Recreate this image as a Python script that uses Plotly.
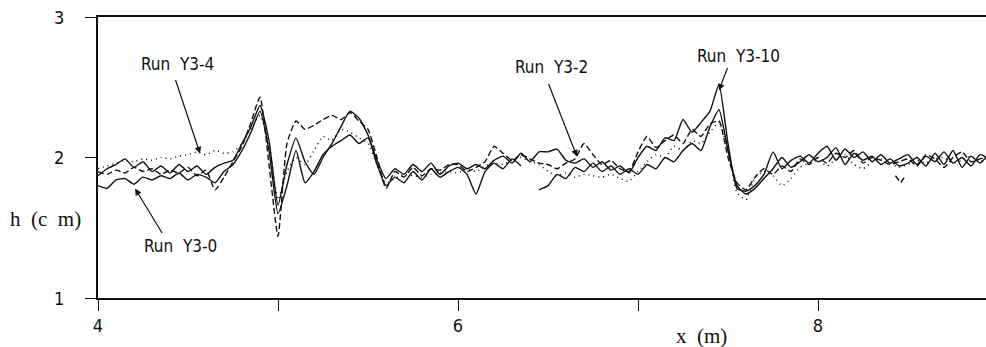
import numpy as np
import plotly.graph_objects as go

# Water depth profiles h(x) along the flume for four runs
x_m = [round(4.0 + 0.05 * i, 2) for i in range(100)]

h_y3_0 = [
    1.80, 1.78, 1.84, 1.85, 1.81, 1.86, 1.84, 1.87, 1.85, 1.89,
    1.84, 1.88, 1.86, 1.82, 1.90, 1.95, 2.05, 2.18, 2.33, 2.05,
    1.60, 1.80, 2.05, 1.82, 1.90, 2.02, 2.08, 2.12, 2.16, 2.10,
    2.14, 1.95, 1.80, 1.86, 1.82, 1.90, 1.84, 1.92, 1.86, 1.90,
    1.93, 1.88, 1.74, 1.90, 1.96, 1.92, 1.99, 1.94, None, 1.77,
    1.80, 1.88, 1.85, 1.93, 1.90, 1.96, 1.90, 1.94, 1.88, 1.92,
    1.88, 1.95, 1.92, 2.00, 1.97, 2.05, 2.10, 2.05, 2.22, 2.34,
    2.05, 1.80, 1.74, 1.78, 1.85, 1.92, 2.00, 1.93, 1.97, 2.02,
    1.97, 2.00, 2.07, 1.95, 2.03, 1.98, 2.01, 1.95, 1.99, 1.94,
    1.96, 2.00, 1.94, 2.03, 1.95, 2.05, 1.93, 2.01, 1.96, 2.03,
]

h_y3_2 = [
    1.90, 1.88, 1.91, 1.89, 1.93, 1.90, 1.92, 1.88, 1.91, 1.89,
    1.93, 1.87, 1.91, 1.77, 1.86, 1.97, 2.08, 2.25, 2.43, 1.95,
    1.44, 2.10, 2.26, 2.20, 2.23, 2.27, 2.30, 2.27, 2.32, 2.26,
    2.20, 2.00, 1.78, 1.90, 1.86, 1.93, 1.87, 1.92, 1.91, 1.95,
    1.95, 1.90, 1.93, 1.97, 2.08, 2.03, 1.98, 2.02, 1.99, 1.96,
    1.95, 1.92, 1.96, 1.99, 2.10, 2.02, 1.95, 1.98, 1.92, 1.90,
    2.04, 2.15, 2.07, 2.12, 2.16, 2.10, 2.20, 2.15, 2.24, 2.26,
    2.00, 1.82, 1.77, 1.86, 1.92, 1.88, 1.94, 1.90, 1.99, 1.95,
    2.00, 1.96, 2.03, 2.00, 2.05, 1.96, 2.00, 1.98, 1.95, 1.97,
    1.99, 1.94, 2.02, 1.99, 1.93, 2.00, 2.04, 1.97, 1.99, 2.01,
]
# short separate stretch of Run Y3-2 near x = 8.45
x_y3_2_piece = [8.43, 8.46, 8.48]
h_y3_2_piece = [1.87, 1.82, 1.86]

h_y3_4 = [
    1.92, 1.94, 1.96, 1.98, 1.97, 1.99, 1.98, 2.00, 1.99, 2.01,
    2.02, 2.04, 2.02, 2.05, 2.03, 2.04, 2.10, 2.20, 2.30, 2.10,
    1.70, 1.90, 2.00, 1.95, 2.05, 2.15, 2.12, 2.20, 2.18, 2.14,
    2.10, 1.95, 1.82, 1.85, 1.88, 1.87, 1.86, 1.88, 1.89, 1.90,
    1.89, 1.92, 1.90, 1.94, 1.96, 1.95, 1.98, 2.00, 1.97, 1.95,
    1.90, 1.87, 1.89, 1.86, 1.88, 1.87, 1.86, 1.88, 1.85, 1.83,
    1.90, 1.97, 2.02, 2.00, 2.08, 2.05, 2.12, 2.10, 2.18, 2.25,
    2.05, 1.75, 1.70, 1.86, 1.90, 1.87, 1.80, 1.85, 1.93, 1.96,
    1.98, 1.94, 1.99, 2.02, 1.95, 1.92, 1.97, 1.99, 1.96, 1.93,
    1.95, 1.98, 1.96, 1.99, 2.00, 1.96, 1.98, 2.01, 1.97, 2.00,
]

h_y3_10 = [
    1.87, 1.92, 1.95, 1.99, 1.93, 1.97, 1.90, 1.94, 1.89, 1.95,
    1.90, 1.94, 1.88, 1.93, 1.96, 1.98, 2.10, 2.22, 2.37, 2.12,
    1.66, 1.95, 2.14, 1.97, 1.88, 2.00, 2.10, 2.22, 2.33, 2.28,
    2.16, 1.98, 1.85, 1.92, 1.88, 1.95, 1.90, 1.96, 1.88, 1.94,
    1.96, 1.92, 1.95, 1.92, 1.98, 2.01, 1.96, 2.03, 1.97, 2.04,
    2.04, 2.06, 1.98, 1.96, 1.99, 1.93, 1.97, 1.91, 1.94, 1.89,
    2.00, 2.08, 2.05, 2.14, 2.12, 2.27, 2.18, 2.25, 2.33, 2.52,
    2.10, 1.78, 1.76, 1.80, 1.88, 2.04, 1.92, 1.98, 2.01, 1.96,
    2.03, 2.08, 1.98, 2.06, 2.00, 2.04, 1.97, 2.02, 1.96, 1.99,
    2.02, 1.95, 2.01, 1.97, 2.04, 1.96, 2.00, 1.94, 2.02, 1.99,
]

x_ticks = [4, 5, 6, 7, 8]
x_tick_text = ["4", "", "6", "", "8"]
h_ticks = [1, 2, 3]
h_tick_text = ["1", "2", "3"]

ink = "#111111"
line_shape = dict(shape="spline", smoothing=0.5)

fig = go.Figure()
fig.add_trace(go.Scatter(x=x_m, y=h_y3_0, mode="lines", name="Run Y3-0",
                         line=dict(color=ink, width=1.4, **line_shape)))
fig.add_trace(go.Scatter(x=x_m, y=h_y3_10, mode="lines", name="Run Y3-10",
                         line=dict(color=ink, width=1.4, **line_shape)))
fig.add_trace(go.Scatter(x=x_m, y=h_y3_2, mode="lines", name="Run Y3-2",
                         line=dict(color=ink, width=1.4, dash="6px,3px", **line_shape)))
fig.add_trace(go.Scatter(x=x_y3_2_piece, y=h_y3_2_piece, mode="lines", name="Run Y3-2",
                         showlegend=False,
                         line=dict(color=ink, width=1.4, dash="6px,3px")))
fig.add_trace(go.Scatter(x=x_m, y=h_y3_4, mode="lines", name="Run Y3-4",
                         line=dict(color=ink, width=1.5, dash="1px,4px", **line_shape)))

label_font = dict(family="Liberation Sans Narrow, DejaVu Sans Condensed, Arial Narrow, sans-serif",
                  size=17, color=ink)
tick_font = dict(family="Liberation Sans Narrow, DejaVu Sans Condensed, Arial Narrow, sans-serif",
                 size=18, color=ink)
title_font = dict(family="Liberation Serif, DejaVu Serif, serif", size=21, color=ink)

# run labels with leader arrows: (text, text pos, arrow tail, arrow head)
run_labels = [
    ("Run  Y3-4", (4.439, 2.669), (4.428, 2.562), (4.567, 2.028)),
    ("Run  Y3-0", (4.456, 1.367), (4.361, 1.452), (4.206, 1.779)),
    ("Run  Y3-2", (6.522, 2.641), (6.500, 2.534), (6.661, 2.007)),
    ("Run  Y3-10", (7.556, 2.726), (7.500, 2.648), (7.450, 2.477)),
]
for text, (tx, ty), (ax_, ay_), (hx, hy) in run_labels:
    fig.add_annotation(x=tx, y=ty, text=text, showarrow=False, font=label_font,
                       xanchor="center", yanchor="middle")
    fig.add_annotation(x=hx, y=hy, ax=ax_, ay=ay_, axref="x", ayref="y", text="",
                       showarrow=True, arrowhead=2, arrowsize=1.1, arrowwidth=1.2,
                       arrowcolor=ink)

# h tick labels set a little further out from the axis
for hv, ht in zip(h_ticks, h_tick_text):
    fig.add_annotation(xref="paper", yref="y", x=-0.0355, y=hv, text=ht,
                       showarrow=False, font=tick_font, xanchor="right", yanchor="middle")

fig.add_annotation(xref="paper", yref="paper", x=-0.0595, y=0.28, text="h  (c  m)",
                   showarrow=False, font=title_font, xanchor="center", yanchor="middle")
fig.add_annotation(xref="paper", yref="paper", x=0.680, y=-0.135, text="x  (m)",
                   showarrow=False, font=title_font, xanchor="center", yanchor="middle")

fig.update_layout(
    width=986, height=347,
    margin=dict(l=98, r=0, t=17, b=49),
    paper_bgcolor="white", plot_bgcolor="white",
    showlegend=False,
    font=label_font,
)
fig.update_xaxes(range=[4, 4 + 888 / 180], tickvals=x_ticks, ticktext=x_tick_text,
                 ticks="outside", ticklen=11, tickwidth=1.3, tickcolor=ink,
                 showline=True, linecolor=ink, linewidth=1.6, mirror=True,
                 showgrid=False, zeroline=False, tickfont=tick_font)
fig.update_yaxes(range=[1, 3], tickvals=h_ticks, showticklabels=False,
                 ticks="outside", ticklen=11, tickwidth=1.3, tickcolor=ink,
                 showline=True, linecolor=ink, linewidth=1.6,
                 showgrid=False, zeroline=False)

fig.write_html("out.html")
